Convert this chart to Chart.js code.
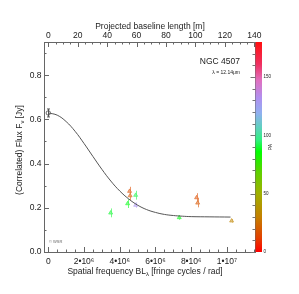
<!DOCTYPE html>
<html><head><meta charset="utf-8">
<script src="https://cdn.jsdelivr.net/npm/chart.js@4.4.0/dist/chart.umd.min.js"></script>
<style>html,body{margin:0;padding:0;background:#fff;}</style>
</head><body>
<canvas id="c" width="299" height="294"></canvas>
<script>
// ---- data ----
const xTicks = [0, 2e6, 4e6, 6e6, 8e6, 1e7];
const xTickLabels = ['0', '2•10⁶', '4•10⁶', '6•10⁶', '8•10⁶', '1•10⁷'];
const yTicks = [0, 0.2, 0.4, 0.6, 0.8];
const yTickLabels = ['0.0', '0.2', '0.4', '0.6', '0.8'];
const topTicks = [0, 20, 40, 60, 80, 100, 120, 140];
const paTicks = [0, 50, 100, 150];

const refX = [0];
const refY = [0.629];
const refErr = [0.018];

const visX = [3.49e6, 4.55e6, 4.58e6, 4.44e6, 4.89e6, 4.89e6, 7.33e6, 8.30e6, 8.36e6, 10.26e6];
const visY = [0.177, 0.275, 0.255, 0.219, 0.257, 0.212, 0.156, 0.246, 0.222, 0.141];
const visErr = [0.02, 0.02, 0.02, 0.02, 0.02, 0.012, 0.01, 0.02, 0.02, 0.008];
const visPA = [90, 16, 18, 88, 92, 130, 88, 16, 18, 32];

const fitX = [0, 0.5e6, 1e6, 1.5e6, 2e6, 2.5e6, 3e6, 3.5e6, 4e6, 4.5e6, 5e6, 5.5e6, 6e6, 6.5e6, 7e6, 7.5e6, 8e6, 9e6, 10.2e6];
const fitY = [0.629, 0.619, 0.590, 0.546, 0.491, 0.432, 0.374, 0.321, 0.276, 0.240, 0.212, 0.192, 0.179, 0.170, 0.165, 0.162, 0.160, 0.159, 0.158];

const lambdaM = 12.14e-6;
const xMin = -0.24e6, xMax = 11.57e6;

// colour table for PA (0..180)
const cStops = [
  [0, [255, 0, 0]], [12, [228, 64, 0]], [30, [196, 128, 0]], [50, [160, 176, 0]],
  [68, [96, 208, 0]], [86, [0, 255, 0]], [96, [48, 240, 128]], [107, [96, 208, 192]],
  [119, [144, 176, 240]], [132, [176, 144, 240]], [147, [224, 112, 192]], [161, [240, 48, 96]],
  [180, [255, 16, 16]]
];
function paRGB(p) {
  for (let i = 1; i < cStops.length; i++) {
    if (p <= cStops[i][0]) {
      const [p0, c0] = cStops[i - 1], [p1, c1] = cStops[i];
      const t = (p - p0) / (p1 - p0);
      return c0.map((v, k) => Math.round(v + (c1[k] - v) * t));
    }
  }
  return [255, 16, 16];
}
function paColor(p, a) { const c = paRGB(p); return `rgba(${c[0]},${c[1]},${c[2]},${a})`; }
// lighter version for markers (blend toward white)
function paLight(p, f, a) {
  const c = paRGB(p).map(v => Math.round(v + (255 - v) * f));
  return `rgba(${c[0]},${c[1]},${c[2]},${a})`;
}

const FONT = '"Liberation Sans", Arial, sans-serif';

function drawParts(ctx, parts, cx, cy, size) {
  // parts: [text, isSub]
  const sub = size * 0.7;
  let w = 0;
  parts.forEach(([t, s]) => { ctx.font = (s ? sub : size) + 'px ' + FONT; w += ctx.measureText(t).width; });
  let xx = cx - w / 2;
  ctx.textAlign = 'left';
  parts.forEach(([t, s]) => {
    ctx.font = (s ? sub : size) + 'px ' + FONT;
    ctx.fillText(t, xx, cy + (s ? size * 0.3 : 0));
    xx += ctx.measureText(t).width;
  });
}

const deco = {
  id: 'deco',
  beforeDatasetsDraw(chart) {
    const ctx = chart.ctx, x = chart.scales.x, y = chart.scales.y;
    ctx.save();
    ctx.lineWidth = 1;
    visX.forEach((v, i) => {
      const px = Math.round(x.getPixelForValue(v)) + 0.5;
      ctx.strokeStyle = paLight(visPA[i], 0.3, 0.85);
      ctx.beginPath();
      ctx.moveTo(px, y.getPixelForValue(visY[i] - visErr[i]));
      ctx.lineTo(px, y.getPixelForValue(visY[i] + visErr[i]));
      ctx.stroke();
    });
    refX.forEach((v, i) => {
      const px = Math.round(x.getPixelForValue(v)) + 0.5;
      const t = y.getPixelForValue(refY[i] + refErr[i]), b = y.getPixelForValue(refY[i] - refErr[i]);
      ctx.strokeStyle = '#555';
      ctx.beginPath();
      ctx.moveTo(px, t); ctx.lineTo(px, b);
      ctx.moveTo(px - 1.5, t); ctx.lineTo(px + 1.5, t);
      ctx.moveTo(px - 1.5, b); ctx.lineTo(px + 1.5, b);
      ctx.stroke();
    });
    ctx.restore();
  },
  afterDraw(chart) {
    const ctx = chart.ctx, a = chart.chartArea;
    const x = chart.scales.x, y = chart.scales.y, x2 = chart.scales.x2, pa = chart.scales.pa;
    ctx.save();
    ctx.strokeStyle = '#666';
    ctx.lineWidth = 1;
    ctx.strokeRect(Math.round(a.left) + 0.5, Math.round(a.top) + 0.5, Math.round(a.right - a.left), Math.round(a.bottom - a.top));
    ctx.beginPath();
    for (let v = 0; v <= xMax; v += 0.5e6) {
      const px = Math.round(x.getPixelForValue(v)) + 0.5;
      const major = Math.abs(v / 2e6 - Math.round(v / 2e6)) < 1e-6;
      const L = major ? 5 : 2.5;
      ctx.moveTo(px, a.bottom); ctx.lineTo(px, a.bottom - L);
    }
    for (let v = 0; v <= 140; v += 5) {
      const px = Math.round(x2.getPixelForValue(v)) + 0.5;
      const L = v % 20 === 0 ? 5 : 2.5;
      ctx.moveTo(px, a.top); ctx.lineTo(px, a.top + L);
    }
    for (let k = 0; k <= 9; k++) {
      const py = Math.round(y.getPixelForValue(k / 10)) + 0.5;
      const L = k % 2 === 0 ? 5 : 2.5;
      ctx.moveTo(a.left, py); ctx.lineTo(a.left + L, py);
    }
    ctx.stroke();

    // colorbar
    const cbL = a.right + 0.5, cbR = a.right + 7;
    const gTop = pa.getPixelForValue(180), gBot = pa.getPixelForValue(0);
    const grad = ctx.createLinearGradient(0, gBot, 0, gTop);
    cStops.forEach(s => grad.addColorStop(s[0] / 180, paColor(s[0], 1)));
    ctx.fillStyle = grad;
    ctx.fillRect(cbL, gTop, cbR - cbL, gBot - gTop);
    ctx.beginPath();
    for (let v = 0; v <= 180; v += 10) {
      const py = Math.round(pa.getPixelForValue(v)) + 0.5;
      const L = v % 50 === 0 ? 5 : 3;
      ctx.moveTo(cbL, py); ctx.lineTo(cbL - L, py);
    }
    ctx.strokeStyle = '#777';
    ctx.stroke();

    // tick labels
    ctx.fillStyle = '#222';
    ctx.font = '8.5px ' + FONT;
    ctx.textAlign = 'center';
    ctx.textBaseline = 'middle';
    xTicks.forEach((v, i) => ctx.fillText(xTickLabels[i], x.getPixelForValue(v), 262));
    topTicks.forEach(v => ctx.fillText(String(v), x2.getPixelForValue(v), 35.5));
    ctx.textAlign = 'right';
    yTicks.forEach((v, i) => ctx.fillText(yTickLabels[i], 41.5, y.getPixelForValue(v)));

    ctx.font = '4.5px ' + FONT;
    ctx.textAlign = 'left';
    paTicks.forEach(v => ctx.fillText(String(v), cbR + 1.5, pa.getPixelForValue(v)));
    ctx.save();
    ctx.translate(271, 147);
    ctx.rotate(-Math.PI / 2);
    ctx.textAlign = 'center';
    ctx.font = '5px ' + FONT;
    ctx.fillText('PA', 0, 0);
    ctx.restore();

    // titles
    ctx.font = '8.5px ' + FONT;
    ctx.textAlign = 'center';
    ctx.fillText('Projected baseline length [m]', 150, 27);
    drawParts(ctx, [['Spatial frequency BL', 0], ['\u03BB', 1], [' [fringe cycles / rad]', 0]], 145, 271.5, 8.5);
    ctx.save();
    ctx.translate(20, 150);
    ctx.rotate(-Math.PI / 2);
    drawParts(ctx, [['(Correlated) Flux F', 0], ['\u03BD', 1], [' [Jy]', 0]], 0, 0, 8.5);
    ctx.restore();

    ctx.textAlign = 'right';
    ctx.font = '8.5px ' + FONT;
    ctx.fillText('NGC 4507', 240, 62);
    ctx.font = '5px ' + FONT;
    ctx.fillText('\u03BB = 12.14\u03BCm', 240, 72.5);
    ctx.textAlign = 'left';
    ctx.font = '4px ' + FONT;
    ctx.fillStyle = '#666';
    ctx.fillText('\u00A9 WSR', 49, 242);
    ctx.restore();
  }
};

new Chart(document.getElementById('c'), {
  type: 'scatter',
  data: {
    datasets: [
      {
        type: 'line', data: fitX.map((v, i) => ({ x: v, y: fitY[i] })),
        borderColor: '#555', borderWidth: 1, pointRadius: 0, tension: 0.4, fill: false
      },
      {
        data: visX.map((v, i) => ({ x: v, y: visY[i] })),
        pointStyle: 'triangle', pointRadius: 2.3,
        backgroundColor: visPA.map(p => paLight(p, 0.45, 0.9)),
        borderColor: visPA.map(p => paLight(p, 0.2, 0.9)), borderWidth: 0.8
      },
      {
        data: refX.map((v, i) => ({ x: v, y: refY[i] })),
        pointStyle: 'circle', pointRadius: 2.2,
        backgroundColor: 'rgba(255,255,255,0)', borderColor: '#444', borderWidth: 0.8
      }
    ]
  },
  options: {
    responsive: false, animation: false, devicePixelRatio: 1,
    layout: { padding: { left: 44, top: 42, right: 44, bottom: 42 } },
    plugins: { legend: { display: false }, tooltip: { enabled: false } },
    scales: {
      x: { type: 'linear', min: xMin, max: xMax, display: false },
      x2: { type: 'linear', position: 'top', min: xMin * lambdaM, max: xMax * lambdaM, display: false },
      y: { type: 'linear', min: 0, max: 0.95, display: false },
      pa: { type: 'linear', position: 'right', min: 0, max: 180, display: false }
    }
  },
  plugins: [deco]
});
</script>
</body></html>
